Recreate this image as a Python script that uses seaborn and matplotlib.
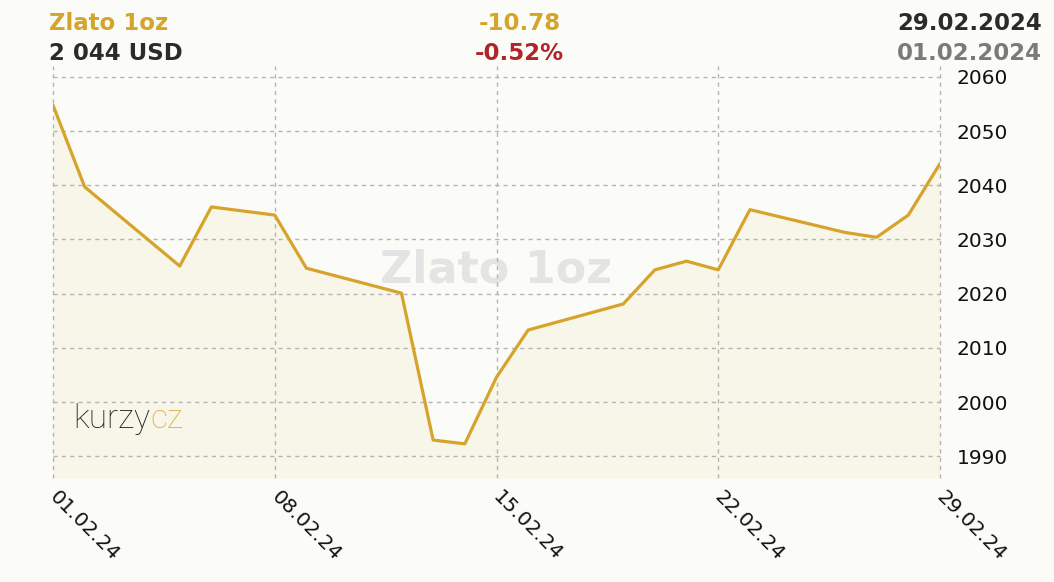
import pandas as pd
import matplotlib
matplotlib.use("Agg")
import matplotlib.pyplot as plt
import matplotlib.dates as mdates
import matplotlib.transforms as mtrans
import seaborn as sns

# data (trading days, Feb 2024)
dates = ["2024-02-01", "2024-02-02", "2024-02-05", "2024-02-06", "2024-02-08",
         "2024-02-09", "2024-02-12", "2024-02-13", "2024-02-14", "2024-02-15",
         "2024-02-16", "2024-02-19", "2024-02-20", "2024-02-21", "2024-02-22",
         "2024-02-23", "2024-02-26", "2024-02-27", "2024-02-28", "2024-02-29"]
prices = [2054.78, 2039.7, 2025.1, 2036.0, 2034.5,
          2024.7, 2020.1, 1993.0, 1992.3, 2004.6,
          2013.3, 2018.1, 2024.4, 2026.0, 2024.4,
          2035.5, 2031.3, 2030.4, 2034.5, 2044.0]
tick_dates = ["2024-02-01", "2024-02-08", "2024-02-15", "2024-02-22", "2024-02-29"]
y_ticks = [1990, 2000, 2010, 2020, 2030, 2040, 2050, 2060]

gold = "#d6a32c"
bg = "#fbfbf8"

df = pd.DataFrame({"date": pd.to_datetime(dates), "price": prices})

sns.set_style("white")
plt.rcParams["font.family"] = ["DejaVu Sans"]

fig = plt.figure(figsize=(10.54, 5.82), dpi=100, facecolor=bg)
ax = fig.add_axes([53 / 1054, 1 - 478 / 582, 887 / 1054, 412 / 582])
ax.set_facecolor(bg)

# watermark, partly hidden behind the fill
ax.text(0.5, 0.505, "Zlato 1oz", transform=ax.transAxes, ha="center", va="center",
        fontsize=32, fontweight="bold", color="#e4e4e4", zorder=0.5)

ax.fill_between(df["date"], df["price"], 1986, color="#f7f6e8", zorder=1, lw=0)
sns.lineplot(data=df, x="date", y="price", ax=ax, color=gold, lw=2.3, zorder=3)

ax.set_xlim(df["date"].iloc[0], df["date"].iloc[-1])
ax.set_ylim(1986, 2062)
ax.set_xticks(pd.to_datetime(tick_dates))
ax.xaxis.set_major_formatter(mdates.DateFormatter("%d.%m.%y"))
ax.set_yticks(y_ticks)
ax.yaxis.tick_right()
ax.tick_params(axis="y", length=0, pad=12, labelsize=14.5, labelcolor="#111111")
ax.tick_params(axis="x", length=0, pad=7, labelsize=14.5, labelcolor="#111111")
shift = mtrans.ScaledTranslation(4.5 / 72, 0, fig.dpi_scale_trans)
for lab in ax.get_xticklabels():
    lab.set_rotation(-45)
    lab.set_ha("left")
    lab.set_va("top")
    lab.set_rotation_mode("anchor")
    lab.set_transform(lab.get_transform() + shift)

ax.grid(True, color="#b4b4b4", ls=(0, (3, 3)), lw=1)
ax.set_axisbelow(False)
for gl in ax.get_xgridlines() + ax.get_ygridlines():
    gl.set_clip_on(False)
for s in ax.spines.values():
    s.set_visible(False)
ax.set_xlabel("")
ax.set_ylabel("")

# logo
t1 = ax.text(0.0225, 0.105, "kurzy", transform=ax.transAxes, ha="left", va="bottom",
             fontsize=24, fontweight="light", family=["Roboto", "DejaVu Sans"],
             color="#222222", zorder=4)
ax.annotate("cz", xy=(1, 0), xycoords=t1, ha="left", va="bottom",
            fontsize=24, fontweight="light", family=["Roboto", "DejaVu Sans"],
            color="#dcae45", zorder=4)

# header
fig.text(49 / 1054, 1 - 29.5 / 582, "Zlato 1oz", ha="left", va="baseline",
         fontsize=16.5, fontweight="bold", color="#d4a52a")
fig.text(49 / 1054, 1 - 59.5 / 582, "2 044 USD", ha="left", va="baseline",
         fontsize=16.5, fontweight="bold", color="#2b2b2b")
fig.text(520 / 1054, 1 - 29.5 / 582, "-10.78", ha="center", va="baseline",
         fontsize=16.5, fontweight="bold", color="#d4a52a")
fig.text(519 / 1054, 1 - 59.5 / 582, "-0.52%", ha="center", va="baseline",
         fontsize=16.5, fontweight="bold", color="#b0242a")
fig.text(1042 / 1054, 1 - 29.5 / 582, "29.02.2024", ha="right", va="baseline",
         fontsize=16.5, fontweight="bold", color="#2b2b2b")
fig.text(1042 / 1054, 1 - 59.5 / 582, "01.02.2024", ha="right", va="baseline",
         fontsize=16.5, fontweight="bold", color="#7a7a7a")

fig.savefig("out.png", dpi=100, facecolor=bg)
